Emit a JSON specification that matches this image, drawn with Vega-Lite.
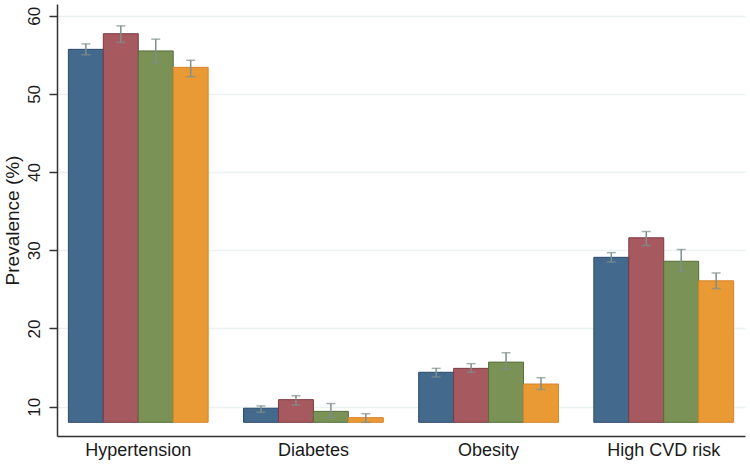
{
  "$schema": "https://vega.github.io/schema/vega-lite/v6.json",
  "width": 688,
  "height": 432,
  "autosize": {"type": "none"},
  "padding": {"left": 57, "top": 4, "right": 5, "bottom": 29},
  "background": "white",
  "config": {
    "view": {"stroke": null},
    "font": "Liberation Sans"
  },
  "data": {
    "values": [
      {"outcome": "Hypertension", "group": "Group 1", "value": 55.7, "lo": 55.0, "hi": 56.4},
      {"outcome": "Hypertension", "group": "Group 2", "value": 57.7, "lo": 56.6, "hi": 58.7},
      {"outcome": "Hypertension", "group": "Group 3", "value": 55.5, "lo": 54.0, "hi": 57.0},
      {"outcome": "Hypertension", "group": "Group 4", "value": 53.4, "lo": 52.2, "hi": 54.3},
      {"outcome": "Diabetes", "group": "Group 1", "value": 9.8, "lo": 9.3, "hi": 10.1},
      {"outcome": "Diabetes", "group": "Group 2", "value": 10.9, "lo": 10.2, "hi": 11.4},
      {"outcome": "Diabetes", "group": "Group 3", "value": 9.4, "lo": 8.6, "hi": 10.4},
      {"outcome": "Diabetes", "group": "Group 4", "value": 8.6, "lo": 8.0, "hi": 9.1},
      {"outcome": "Obesity", "group": "Group 1", "value": 14.4, "lo": 13.8, "hi": 14.9},
      {"outcome": "Obesity", "group": "Group 2", "value": 14.9, "lo": 14.4, "hi": 15.5},
      {"outcome": "Obesity", "group": "Group 3", "value": 15.7, "lo": 14.8, "hi": 16.9},
      {"outcome": "Obesity", "group": "Group 4", "value": 12.9, "lo": 12.2, "hi": 13.7},
      {"outcome": "High CVD risk", "group": "Group 1", "value": 29.1, "lo": 28.5, "hi": 29.7},
      {"outcome": "High CVD risk", "group": "Group 2", "value": 31.6, "lo": 30.6, "hi": 32.4},
      {"outcome": "High CVD risk", "group": "Group 3", "value": 28.6, "lo": 27.3, "hi": 30.1},
      {"outcome": "High CVD risk", "group": "Group 4", "value": 26.1, "lo": 25.1, "hi": 27.1}
    ]
  },
  "encoding": {
    "x": {
      "field": "outcome",
      "type": "nominal",
      "sort": ["Hypertension", "Diabetes", "Obesity", "High CVD risk"],
      "scale": {"paddingInner": 0.202, "paddingOuter": 0.065},
      "axis": {
        "title": null,
        "labelAngle": 0,
        "labelFontSize": 18,
        "labelColor": "#1a1a1a",
        "labelPadding": 5,
        "ticks": false,
        "domainColor": "#333333",
        "domainWidth": 1.5,
        "grid": false
      }
    },
    "xOffset": {
      "field": "group",
      "type": "nominal",
      "sort": ["Group 1", "Group 2", "Group 3", "Group 4"],
      "scale": {"paddingInner": 0, "paddingOuter": 0}
    }
  },
  "layer": [
    {
      "mark": {"type": "bar", "strokeWidth": 1},
      "encoding": {
        "y": {
          "field": "value",
          "type": "quantitative",
          "scale": {"domain": [6.25, 61.5], "nice": false, "zero": false},
          "axis": {
            "title": "Prevalence (%)",
            "titleFontSize": 19,
            "titleFontWeight": "normal",
            "titleColor": "#1a1a1a",
            "titlePadding": 3,
            "values": [10, 20, 30, 40, 50, 60],
            "labelAngle": -90,
            "labelAlign": "center",
            "labelBaseline": "bottom",
            "labelFontSize": 17,
            "labelColor": "#1a1a1a",
            "labelPadding": 6,
            "tickSize": 8,
            "tickColor": "#333333",
            "tickWidth": 1.5,
            "domainColor": "#333333",
            "domainWidth": 1.5,
            "grid": true,
            "gridColor": "#EAF2F3",
            "gridWidth": 1.5
          }
        },
        "y2": {"datum": 8},
        "fill": {
          "field": "group",
          "type": "nominal",
          "scale": {
            "domain": ["Group 1", "Group 2", "Group 3", "Group 4"],
            "range": ["#436A8C", "#A65A60", "#7A9255", "#EA9A35"]
          },
          "legend": null
        },
        "stroke": {
          "field": "group",
          "type": "nominal",
          "scale": {
            "domain": ["Group 1", "Group 2", "Group 3", "Group 4"],
            "range": ["#2A4A6C", "#7E3A42", "#55703A", "#D8842A"]
          },
          "legend": null
        }
      }
    },
    {
      "mark": {"type": "rule", "color": "#7F8E8C", "strokeWidth": 1.5},
      "encoding": {
        "y": {"field": "lo", "type": "quantitative"},
        "y2": {"field": "hi"}
      }
    },
    {
      "mark": {"type": "tick", "color": "#7F8E8C", "size": 9, "thickness": 1.5},
      "encoding": {
        "y": {"field": "lo", "type": "quantitative"}
      }
    },
    {
      "mark": {"type": "tick", "color": "#7F8E8C", "size": 9, "thickness": 1.5},
      "encoding": {
        "y": {"field": "hi", "type": "quantitative"}
      }
    }
  ]
}
